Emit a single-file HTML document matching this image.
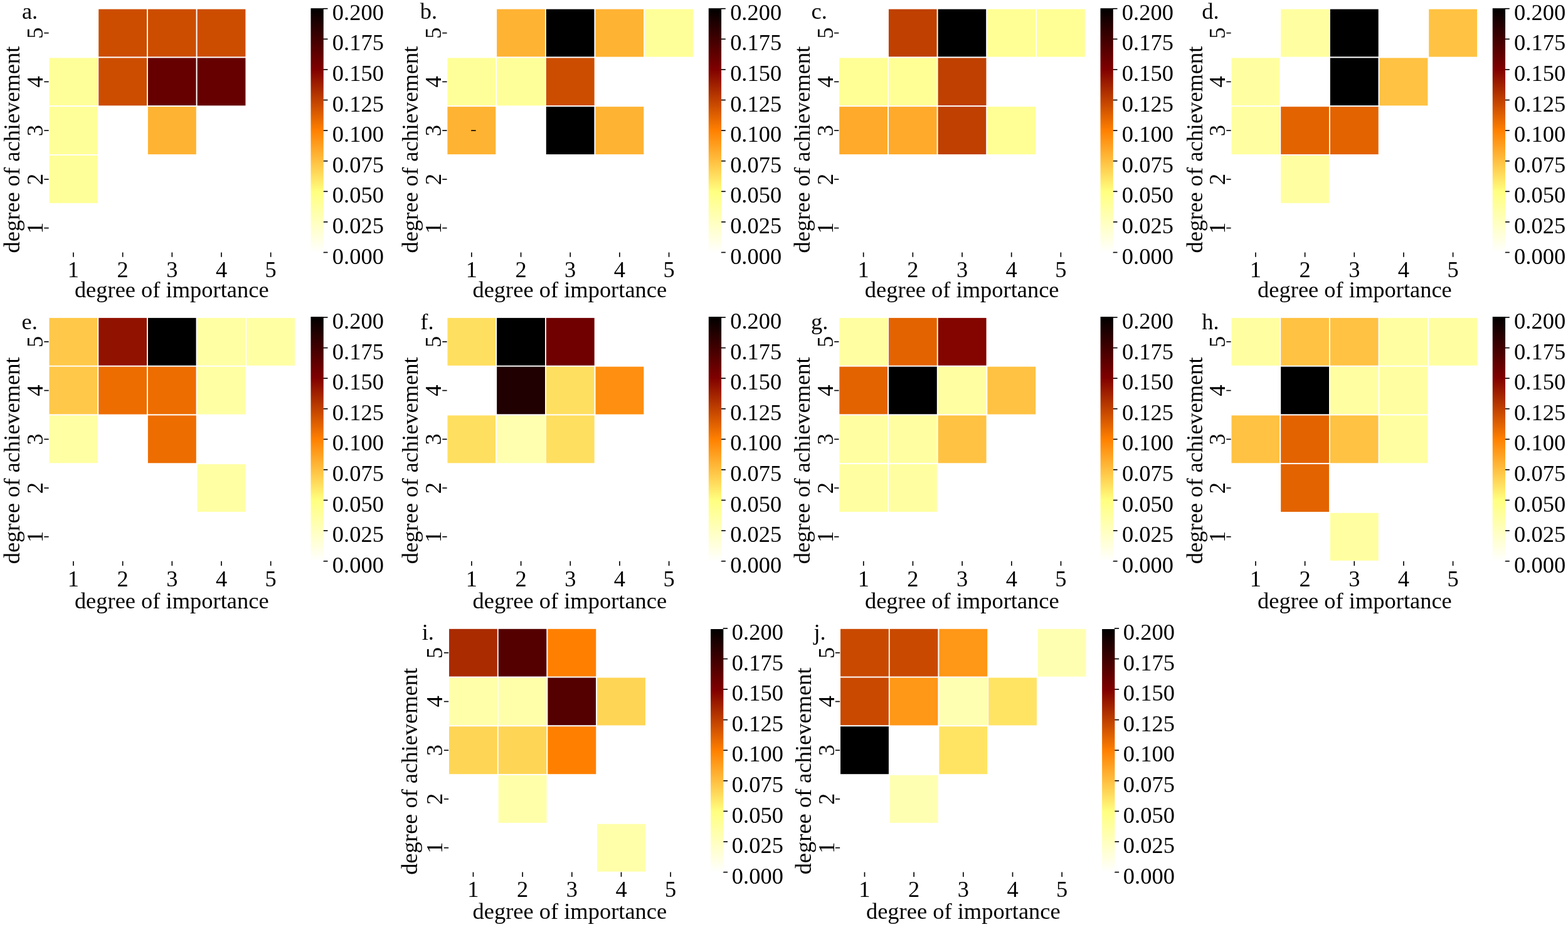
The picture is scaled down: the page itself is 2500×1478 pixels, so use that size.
<!DOCTYPE html>
<html lang="en">
<head>
<meta charset="utf-8">
<title>Importance vs. achievement heatmaps</title>
<style>
html,body{margin:0;padding:0;background:#ffffff;}
body{width:2500px;height:1478px;overflow:hidden;}
svg{display:block;}
text{font-family:"Liberation Serif",serif;font-size:36.46px;fill:#000000;}
</style>
</head>
<body>
<svg width="2500" height="1478" viewBox="0 0 2500 1478" role="img" aria-label="Heatmaps of degree of achievement versus degree of importance, panels a to j">
<defs><linearGradient id="cb" x1="0" y1="0" x2="0" y2="1"><stop offset="0" stop-color="#000000"/><stop offset="0.25" stop-color="#800000"/><stop offset="0.5" stop-color="#ff8000"/><stop offset="0.75" stop-color="#ffff80"/><stop offset="1" stop-color="#ffffff"/></linearGradient></defs>
<rect x="0" y="0" width="2500" height="1478" fill="#ffffff"/>
<g class="panel" id="panel-a">
<g class="cells" stroke="#ffffff" stroke-width="1.8">
<rect x="156.32" y="13.75" width="78.67" height="77.74" fill="#cc4d00"/>
<rect x="234.99" y="13.75" width="78.67" height="77.74" fill="#cc4d00"/>
<rect x="313.66" y="13.75" width="78.67" height="77.74" fill="#cc4d00"/>
<rect x="77.65" y="91.49" width="78.67" height="77.74" fill="#ffff99"/>
<rect x="156.32" y="91.49" width="78.67" height="77.74" fill="#cc4d00"/>
<rect x="234.99" y="91.49" width="78.67" height="77.74" fill="#660000"/>
<rect x="313.66" y="91.49" width="78.67" height="77.74" fill="#660000"/>
<rect x="77.65" y="169.23" width="78.67" height="77.74" fill="#ffff99"/>
<rect x="234.99" y="169.23" width="78.67" height="77.74" fill="#ffb333"/>
<rect x="77.65" y="246.97" width="78.67" height="77.74" fill="#ffff99"/>
</g>
<g class="ticks" stroke="#000000" stroke-width="1.65" fill="none">
<line x1="116.99" y1="402.45" x2="116.99" y2="409.75"/>
<line x1="195.66" y1="402.45" x2="195.66" y2="409.75"/>
<line x1="274.33" y1="402.45" x2="274.33" y2="409.75"/>
<line x1="353.00" y1="402.45" x2="353.00" y2="409.75"/>
<line x1="431.66" y1="402.45" x2="431.66" y2="409.75"/>
<line x1="70.35" y1="52.62" x2="77.65" y2="52.62"/>
<line x1="70.35" y1="130.36" x2="77.65" y2="130.36"/>
<line x1="70.35" y1="208.10" x2="77.65" y2="208.10"/>
<line x1="70.35" y1="285.84" x2="77.65" y2="285.84"/>
<line x1="70.35" y1="363.58" x2="77.65" y2="363.58"/>
<line x1="515.20" y1="13.75" x2="522.50" y2="13.75"/>
<line x1="515.20" y1="62.34" x2="522.50" y2="62.34"/>
<line x1="515.20" y1="110.92" x2="522.50" y2="110.92"/>
<line x1="515.20" y1="159.51" x2="522.50" y2="159.51"/>
<line x1="515.20" y1="208.10" x2="522.50" y2="208.10"/>
<line x1="515.20" y1="256.69" x2="522.50" y2="256.69"/>
<line x1="515.20" y1="305.27" x2="522.50" y2="305.27"/>
<line x1="515.20" y1="353.86" x2="522.50" y2="353.86"/>
<line x1="515.20" y1="402.45" x2="522.50" y2="402.45"/>
</g>
<rect class="colorbar" x="495.50" y="13.20" width="20.30" height="389.65" fill="url(#cb)"/>
<g class="labels">
<text x="116.99" y="442.30" text-anchor="middle">1</text>
<text x="195.66" y="442.30" text-anchor="middle">2</text>
<text x="274.33" y="442.30" text-anchor="middle">3</text>
<text x="353.00" y="442.30" text-anchor="middle">4</text>
<text x="431.66" y="442.30" text-anchor="middle">5</text>
<text transform="translate(68.00 52.62) rotate(-90)" text-anchor="middle">5</text>
<text transform="translate(68.00 130.36) rotate(-90)" text-anchor="middle">4</text>
<text transform="translate(68.00 208.10) rotate(-90)" text-anchor="middle">3</text>
<text transform="translate(68.00 285.84) rotate(-90)" text-anchor="middle">2</text>
<text transform="translate(68.00 363.58) rotate(-90)" text-anchor="middle">1</text>
<text x="529.85" y="31.85">0.200</text>
<text x="529.85" y="80.44">0.175</text>
<text x="529.85" y="129.03">0.150</text>
<text x="529.85" y="177.61">0.125</text>
<text x="529.85" y="226.20">0.100</text>
<text x="529.85" y="274.79">0.075</text>
<text x="529.85" y="323.38">0.050</text>
<text x="529.85" y="371.96">0.025</text>
<text x="529.85" y="420.55">0.000</text>
<text x="273.73" y="473.50" text-anchor="middle">degree of importance</text>
<text transform="translate(31.25 238.55) rotate(-90)" text-anchor="middle">degree of achievement</text>
<text x="34.90" y="30.00">a.</text>
</g>
</g>
<g class="panel" id="panel-b">
<g class="cells" stroke="#ffffff" stroke-width="1.8">
<rect x="791.22" y="13.75" width="78.67" height="77.74" fill="#ffb333"/>
<rect x="869.89" y="13.75" width="78.67" height="77.74" fill="#000000"/>
<rect x="948.56" y="13.75" width="78.67" height="77.74" fill="#ffb333"/>
<rect x="1027.23" y="13.75" width="78.67" height="77.74" fill="#ffff99"/>
<rect x="712.55" y="91.49" width="78.67" height="77.74" fill="#ffff99"/>
<rect x="791.22" y="91.49" width="78.67" height="77.74" fill="#ffff99"/>
<rect x="869.89" y="91.49" width="78.67" height="77.74" fill="#cc4d00"/>
<rect x="712.55" y="169.23" width="78.67" height="77.74" fill="#ffb333"/>
<rect x="869.89" y="169.23" width="78.67" height="77.74" fill="#000000"/>
<rect x="948.56" y="169.23" width="78.67" height="77.74" fill="#ffb333"/>
</g>
<g class="ticks" stroke="#000000" stroke-width="1.65" fill="none">
<line x1="751.88" y1="402.45" x2="751.88" y2="409.75"/>
<line x1="830.55" y1="402.45" x2="830.55" y2="409.75"/>
<line x1="909.22" y1="402.45" x2="909.22" y2="409.75"/>
<line x1="987.89" y1="402.45" x2="987.89" y2="409.75"/>
<line x1="1066.57" y1="402.45" x2="1066.57" y2="409.75"/>
<line x1="705.25" y1="52.62" x2="712.55" y2="52.62"/>
<line x1="705.25" y1="130.36" x2="712.55" y2="130.36"/>
<line x1="705.25" y1="208.10" x2="712.55" y2="208.10"/>
<line x1="705.25" y1="285.84" x2="712.55" y2="285.84"/>
<line x1="705.25" y1="363.58" x2="712.55" y2="363.58"/>
<line x1="1149.50" y1="13.75" x2="1156.80" y2="13.75"/>
<line x1="1149.50" y1="62.34" x2="1156.80" y2="62.34"/>
<line x1="1149.50" y1="110.92" x2="1156.80" y2="110.92"/>
<line x1="1149.50" y1="159.51" x2="1156.80" y2="159.51"/>
<line x1="1149.50" y1="208.10" x2="1156.80" y2="208.10"/>
<line x1="1149.50" y1="256.69" x2="1156.80" y2="256.69"/>
<line x1="1149.50" y1="305.27" x2="1156.80" y2="305.27"/>
<line x1="1149.50" y1="353.86" x2="1156.80" y2="353.86"/>
<line x1="1149.50" y1="402.45" x2="1156.80" y2="402.45"/>
</g>
<rect class="colorbar" x="1129.80" y="13.20" width="20.30" height="389.65" fill="url(#cb)"/>
<g class="labels">
<text x="751.88" y="442.30" text-anchor="middle">1</text>
<text x="830.55" y="442.30" text-anchor="middle">2</text>
<text x="909.22" y="442.30" text-anchor="middle">3</text>
<text x="987.89" y="442.30" text-anchor="middle">4</text>
<text x="1066.57" y="442.30" text-anchor="middle">5</text>
<text transform="translate(702.90 52.62) rotate(-90)" text-anchor="middle">5</text>
<text transform="translate(702.90 130.36) rotate(-90)" text-anchor="middle">4</text>
<text transform="translate(702.90 208.10) rotate(-90)" text-anchor="middle">3</text>
<text transform="translate(702.90 285.84) rotate(-90)" text-anchor="middle">2</text>
<text transform="translate(702.90 363.58) rotate(-90)" text-anchor="middle">1</text>
<text x="1164.15" y="31.85">0.200</text>
<text x="1164.15" y="80.44">0.175</text>
<text x="1164.15" y="129.03">0.150</text>
<text x="1164.15" y="177.61">0.125</text>
<text x="1164.15" y="226.20">0.100</text>
<text x="1164.15" y="274.79">0.075</text>
<text x="1164.15" y="323.38">0.050</text>
<text x="1164.15" y="371.96">0.025</text>
<text x="1164.15" y="420.55">0.000</text>
<text x="908.32" y="473.50" text-anchor="middle">degree of importance</text>
<text transform="translate(665.65 238.55) rotate(-90)" text-anchor="middle">degree of achievement</text>
<text x="669.80" y="30.00">b.</text>
</g>
<line x1="751.15" y1="208.20" x2="758.65" y2="208.20" stroke="#000" stroke-width="1.6"/>
</g>
<g class="panel" id="panel-c">
<g class="cells" stroke="#ffffff" stroke-width="1.8">
<rect x="1416.02" y="13.75" width="78.67" height="77.74" fill="#bf4000"/>
<rect x="1494.69" y="13.75" width="78.67" height="77.74" fill="#000000"/>
<rect x="1573.36" y="13.75" width="78.67" height="77.74" fill="#ffff95"/>
<rect x="1652.03" y="13.75" width="78.67" height="77.74" fill="#ffff95"/>
<rect x="1337.35" y="91.49" width="78.67" height="77.74" fill="#ffff95"/>
<rect x="1416.02" y="91.49" width="78.67" height="77.74" fill="#ffff95"/>
<rect x="1494.69" y="91.49" width="78.67" height="77.74" fill="#bf4000"/>
<rect x="1337.35" y="169.23" width="78.67" height="77.74" fill="#ffaa2b"/>
<rect x="1416.02" y="169.23" width="78.67" height="77.74" fill="#ffaa2b"/>
<rect x="1494.69" y="169.23" width="78.67" height="77.74" fill="#bf4000"/>
<rect x="1573.36" y="169.23" width="78.67" height="77.74" fill="#ffff95"/>
</g>
<g class="ticks" stroke="#000000" stroke-width="1.65" fill="none">
<line x1="1376.68" y1="402.45" x2="1376.68" y2="409.75"/>
<line x1="1455.36" y1="402.45" x2="1455.36" y2="409.75"/>
<line x1="1534.02" y1="402.45" x2="1534.02" y2="409.75"/>
<line x1="1612.69" y1="402.45" x2="1612.69" y2="409.75"/>
<line x1="1691.36" y1="402.45" x2="1691.36" y2="409.75"/>
<line x1="1330.05" y1="52.62" x2="1337.35" y2="52.62"/>
<line x1="1330.05" y1="130.36" x2="1337.35" y2="130.36"/>
<line x1="1330.05" y1="208.10" x2="1337.35" y2="208.10"/>
<line x1="1330.05" y1="285.84" x2="1337.35" y2="285.84"/>
<line x1="1330.05" y1="363.58" x2="1337.35" y2="363.58"/>
<line x1="1774.20" y1="13.75" x2="1781.50" y2="13.75"/>
<line x1="1774.20" y1="62.34" x2="1781.50" y2="62.34"/>
<line x1="1774.20" y1="110.92" x2="1781.50" y2="110.92"/>
<line x1="1774.20" y1="159.51" x2="1781.50" y2="159.51"/>
<line x1="1774.20" y1="208.10" x2="1781.50" y2="208.10"/>
<line x1="1774.20" y1="256.69" x2="1781.50" y2="256.69"/>
<line x1="1774.20" y1="305.27" x2="1781.50" y2="305.27"/>
<line x1="1774.20" y1="353.86" x2="1781.50" y2="353.86"/>
<line x1="1774.20" y1="402.45" x2="1781.50" y2="402.45"/>
</g>
<rect class="colorbar" x="1754.50" y="13.20" width="20.30" height="389.65" fill="url(#cb)"/>
<g class="labels">
<text x="1376.68" y="442.30" text-anchor="middle">1</text>
<text x="1455.36" y="442.30" text-anchor="middle">2</text>
<text x="1534.02" y="442.30" text-anchor="middle">3</text>
<text x="1612.69" y="442.30" text-anchor="middle">4</text>
<text x="1691.36" y="442.30" text-anchor="middle">5</text>
<text transform="translate(1327.70 52.62) rotate(-90)" text-anchor="middle">5</text>
<text transform="translate(1327.70 130.36) rotate(-90)" text-anchor="middle">4</text>
<text transform="translate(1327.70 208.10) rotate(-90)" text-anchor="middle">3</text>
<text transform="translate(1327.70 285.84) rotate(-90)" text-anchor="middle">2</text>
<text transform="translate(1327.70 363.58) rotate(-90)" text-anchor="middle">1</text>
<text x="1788.85" y="31.85">0.200</text>
<text x="1788.85" y="80.44">0.175</text>
<text x="1788.85" y="129.03">0.150</text>
<text x="1788.85" y="177.61">0.125</text>
<text x="1788.85" y="226.20">0.100</text>
<text x="1788.85" y="274.79">0.075</text>
<text x="1788.85" y="323.38">0.050</text>
<text x="1788.85" y="371.96">0.025</text>
<text x="1788.85" y="420.55">0.000</text>
<text x="1533.72" y="473.50" text-anchor="middle">degree of importance</text>
<text transform="translate(1290.55 238.55) rotate(-90)" text-anchor="middle">degree of achievement</text>
<text x="1293.50" y="30.00">c.</text>
</g>
</g>
<g class="panel" id="panel-d">
<g class="cells" stroke="#ffffff" stroke-width="1.8">
<rect x="2041.27" y="13.75" width="78.67" height="77.74" fill="#ffffa1"/>
<rect x="2119.94" y="13.75" width="78.67" height="77.74" fill="#000000"/>
<rect x="2277.28" y="13.75" width="78.67" height="77.74" fill="#ffc242"/>
<rect x="1962.60" y="91.49" width="78.67" height="77.74" fill="#ffffa1"/>
<rect x="2119.94" y="91.49" width="78.67" height="77.74" fill="#000000"/>
<rect x="2198.61" y="91.49" width="78.67" height="77.74" fill="#ffc242"/>
<rect x="1962.60" y="169.23" width="78.67" height="77.74" fill="#ffffa1"/>
<rect x="2041.27" y="169.23" width="78.67" height="77.74" fill="#e36300"/>
<rect x="2119.94" y="169.23" width="78.67" height="77.74" fill="#e36300"/>
<rect x="2041.27" y="246.97" width="78.67" height="77.74" fill="#ffffa1"/>
</g>
<g class="ticks" stroke="#000000" stroke-width="1.65" fill="none">
<line x1="2001.93" y1="402.45" x2="2001.93" y2="409.75"/>
<line x1="2080.61" y1="402.45" x2="2080.61" y2="409.75"/>
<line x1="2159.28" y1="402.45" x2="2159.28" y2="409.75"/>
<line x1="2237.94" y1="402.45" x2="2237.94" y2="409.75"/>
<line x1="2316.61" y1="402.45" x2="2316.61" y2="409.75"/>
<line x1="1955.30" y1="52.62" x2="1962.60" y2="52.62"/>
<line x1="1955.30" y1="130.36" x2="1962.60" y2="130.36"/>
<line x1="1955.30" y1="208.10" x2="1962.60" y2="208.10"/>
<line x1="1955.30" y1="285.84" x2="1962.60" y2="285.84"/>
<line x1="1955.30" y1="363.58" x2="1962.60" y2="363.58"/>
<line x1="2399.45" y1="13.75" x2="2406.75" y2="13.75"/>
<line x1="2399.45" y1="62.34" x2="2406.75" y2="62.34"/>
<line x1="2399.45" y1="110.92" x2="2406.75" y2="110.92"/>
<line x1="2399.45" y1="159.51" x2="2406.75" y2="159.51"/>
<line x1="2399.45" y1="208.10" x2="2406.75" y2="208.10"/>
<line x1="2399.45" y1="256.69" x2="2406.75" y2="256.69"/>
<line x1="2399.45" y1="305.27" x2="2406.75" y2="305.27"/>
<line x1="2399.45" y1="353.86" x2="2406.75" y2="353.86"/>
<line x1="2399.45" y1="402.45" x2="2406.75" y2="402.45"/>
</g>
<rect class="colorbar" x="2379.75" y="13.20" width="20.30" height="389.65" fill="url(#cb)"/>
<g class="labels">
<text x="2001.93" y="442.30" text-anchor="middle">1</text>
<text x="2080.61" y="442.30" text-anchor="middle">2</text>
<text x="2159.28" y="442.30" text-anchor="middle">3</text>
<text x="2237.94" y="442.30" text-anchor="middle">4</text>
<text x="2316.61" y="442.30" text-anchor="middle">5</text>
<text transform="translate(1952.95 52.62) rotate(-90)" text-anchor="middle">5</text>
<text transform="translate(1952.95 130.36) rotate(-90)" text-anchor="middle">4</text>
<text transform="translate(1952.95 208.10) rotate(-90)" text-anchor="middle">3</text>
<text transform="translate(1952.95 285.84) rotate(-90)" text-anchor="middle">2</text>
<text transform="translate(1952.95 363.58) rotate(-90)" text-anchor="middle">1</text>
<text x="2414.10" y="31.85">0.200</text>
<text x="2414.10" y="80.44">0.175</text>
<text x="2414.10" y="129.03">0.150</text>
<text x="2414.10" y="177.61">0.125</text>
<text x="2414.10" y="226.20">0.100</text>
<text x="2414.10" y="274.79">0.075</text>
<text x="2414.10" y="323.38">0.050</text>
<text x="2414.10" y="371.96">0.025</text>
<text x="2414.10" y="420.55">0.000</text>
<text x="2159.97" y="473.50" text-anchor="middle">degree of importance</text>
<text transform="translate(1917.20 238.55) rotate(-90)" text-anchor="middle">degree of achievement</text>
<text x="1916.35" y="30.00">d.</text>
</g>
</g>
<g class="panel" id="panel-e">
<g class="cells" stroke="#ffffff" stroke-width="1.8">
<rect x="77.65" y="506.00" width="78.67" height="77.74" fill="#ffc849"/>
<rect x="156.32" y="506.00" width="78.67" height="77.74" fill="#921200"/>
<rect x="234.99" y="506.00" width="78.67" height="77.74" fill="#000000"/>
<rect x="313.66" y="506.00" width="78.67" height="77.74" fill="#ffffa4"/>
<rect x="392.33" y="506.00" width="78.67" height="77.74" fill="#ffffa4"/>
<rect x="77.65" y="583.74" width="78.67" height="77.74" fill="#ffc849"/>
<rect x="156.32" y="583.74" width="78.67" height="77.74" fill="#ed6d00"/>
<rect x="234.99" y="583.74" width="78.67" height="77.74" fill="#ed6d00"/>
<rect x="313.66" y="583.74" width="78.67" height="77.74" fill="#ffffa4"/>
<rect x="77.65" y="661.48" width="78.67" height="77.74" fill="#ffffa4"/>
<rect x="234.99" y="661.48" width="78.67" height="77.74" fill="#ed6d00"/>
<rect x="313.66" y="739.22" width="78.67" height="77.74" fill="#ffffa4"/>
</g>
<g class="ticks" stroke="#000000" stroke-width="1.65" fill="none">
<line x1="116.99" y1="894.70" x2="116.99" y2="902.00"/>
<line x1="195.66" y1="894.70" x2="195.66" y2="902.00"/>
<line x1="274.33" y1="894.70" x2="274.33" y2="902.00"/>
<line x1="353.00" y1="894.70" x2="353.00" y2="902.00"/>
<line x1="431.66" y1="894.70" x2="431.66" y2="902.00"/>
<line x1="70.35" y1="544.87" x2="77.65" y2="544.87"/>
<line x1="70.35" y1="622.61" x2="77.65" y2="622.61"/>
<line x1="70.35" y1="700.35" x2="77.65" y2="700.35"/>
<line x1="70.35" y1="778.09" x2="77.65" y2="778.09"/>
<line x1="70.35" y1="855.83" x2="77.65" y2="855.83"/>
<line x1="515.20" y1="506.00" x2="522.50" y2="506.00"/>
<line x1="515.20" y1="554.59" x2="522.50" y2="554.59"/>
<line x1="515.20" y1="603.17" x2="522.50" y2="603.17"/>
<line x1="515.20" y1="651.76" x2="522.50" y2="651.76"/>
<line x1="515.20" y1="700.35" x2="522.50" y2="700.35"/>
<line x1="515.20" y1="748.94" x2="522.50" y2="748.94"/>
<line x1="515.20" y1="797.52" x2="522.50" y2="797.52"/>
<line x1="515.20" y1="846.11" x2="522.50" y2="846.11"/>
<line x1="515.20" y1="894.70" x2="522.50" y2="894.70"/>
</g>
<rect class="colorbar" x="495.50" y="505.00" width="20.30" height="390.10" fill="url(#cb)"/>
<g class="labels">
<text x="116.99" y="934.55" text-anchor="middle">1</text>
<text x="195.66" y="934.55" text-anchor="middle">2</text>
<text x="274.33" y="934.55" text-anchor="middle">3</text>
<text x="353.00" y="934.55" text-anchor="middle">4</text>
<text x="431.66" y="934.55" text-anchor="middle">5</text>
<text transform="translate(68.00 544.87) rotate(-90)" text-anchor="middle">5</text>
<text transform="translate(68.00 622.61) rotate(-90)" text-anchor="middle">4</text>
<text transform="translate(68.00 700.35) rotate(-90)" text-anchor="middle">3</text>
<text transform="translate(68.00 778.09) rotate(-90)" text-anchor="middle">2</text>
<text transform="translate(68.00 855.83) rotate(-90)" text-anchor="middle">1</text>
<text x="529.85" y="524.10">0.200</text>
<text x="529.85" y="572.69">0.175</text>
<text x="529.85" y="621.27">0.150</text>
<text x="529.85" y="669.86">0.125</text>
<text x="529.85" y="718.45">0.100</text>
<text x="529.85" y="767.04">0.075</text>
<text x="529.85" y="815.62">0.050</text>
<text x="529.85" y="864.21">0.025</text>
<text x="529.85" y="912.80">0.000</text>
<text x="273.73" y="969.50" text-anchor="middle">degree of importance</text>
<text transform="translate(31.25 734.35) rotate(-90)" text-anchor="middle">degree of achievement</text>
<text x="34.50" y="525.10">e.</text>
</g>
</g>
<g class="panel" id="panel-f">
<g class="cells" stroke="#ffffff" stroke-width="1.8">
<rect x="712.60" y="506.00" width="78.67" height="77.74" fill="#ffdf60"/>
<rect x="791.27" y="506.00" width="78.67" height="77.74" fill="#000000"/>
<rect x="869.94" y="506.00" width="78.67" height="77.74" fill="#700000"/>
<rect x="791.27" y="583.74" width="78.67" height="77.74" fill="#200000"/>
<rect x="869.94" y="583.74" width="78.67" height="77.74" fill="#ffdf60"/>
<rect x="948.61" y="583.74" width="78.67" height="77.74" fill="#ff8f10"/>
<rect x="712.60" y="661.48" width="78.67" height="77.74" fill="#ffdf60"/>
<rect x="791.27" y="661.48" width="78.67" height="77.74" fill="#ffffaf"/>
<rect x="869.94" y="661.48" width="78.67" height="77.74" fill="#ffdf60"/>
</g>
<g class="ticks" stroke="#000000" stroke-width="1.65" fill="none">
<line x1="751.94" y1="894.70" x2="751.94" y2="902.00"/>
<line x1="830.61" y1="894.70" x2="830.61" y2="902.00"/>
<line x1="909.28" y1="894.70" x2="909.28" y2="902.00"/>
<line x1="987.95" y1="894.70" x2="987.95" y2="902.00"/>
<line x1="1066.62" y1="894.70" x2="1066.62" y2="902.00"/>
<line x1="705.30" y1="544.87" x2="712.60" y2="544.87"/>
<line x1="705.30" y1="622.61" x2="712.60" y2="622.61"/>
<line x1="705.30" y1="700.35" x2="712.60" y2="700.35"/>
<line x1="705.30" y1="778.09" x2="712.60" y2="778.09"/>
<line x1="705.30" y1="855.83" x2="712.60" y2="855.83"/>
<line x1="1149.55" y1="506.00" x2="1156.85" y2="506.00"/>
<line x1="1149.55" y1="554.59" x2="1156.85" y2="554.59"/>
<line x1="1149.55" y1="603.17" x2="1156.85" y2="603.17"/>
<line x1="1149.55" y1="651.76" x2="1156.85" y2="651.76"/>
<line x1="1149.55" y1="700.35" x2="1156.85" y2="700.35"/>
<line x1="1149.55" y1="748.94" x2="1156.85" y2="748.94"/>
<line x1="1149.55" y1="797.52" x2="1156.85" y2="797.52"/>
<line x1="1149.55" y1="846.11" x2="1156.85" y2="846.11"/>
<line x1="1149.55" y1="894.70" x2="1156.85" y2="894.70"/>
</g>
<rect class="colorbar" x="1129.85" y="505.00" width="20.30" height="390.10" fill="url(#cb)"/>
<g class="labels">
<text x="751.94" y="934.55" text-anchor="middle">1</text>
<text x="830.61" y="934.55" text-anchor="middle">2</text>
<text x="909.28" y="934.55" text-anchor="middle">3</text>
<text x="987.95" y="934.55" text-anchor="middle">4</text>
<text x="1066.62" y="934.55" text-anchor="middle">5</text>
<text transform="translate(702.95 544.87) rotate(-90)" text-anchor="middle">5</text>
<text transform="translate(702.95 622.61) rotate(-90)" text-anchor="middle">4</text>
<text transform="translate(702.95 700.35) rotate(-90)" text-anchor="middle">3</text>
<text transform="translate(702.95 778.09) rotate(-90)" text-anchor="middle">2</text>
<text transform="translate(702.95 855.83) rotate(-90)" text-anchor="middle">1</text>
<text x="1164.20" y="524.10">0.200</text>
<text x="1164.20" y="572.69">0.175</text>
<text x="1164.20" y="621.27">0.150</text>
<text x="1164.20" y="669.86">0.125</text>
<text x="1164.20" y="718.45">0.100</text>
<text x="1164.20" y="767.04">0.075</text>
<text x="1164.20" y="815.62">0.050</text>
<text x="1164.20" y="864.21">0.025</text>
<text x="1164.20" y="912.80">0.000</text>
<text x="908.38" y="969.50" text-anchor="middle">degree of importance</text>
<text transform="translate(665.70 734.35) rotate(-90)" text-anchor="middle">degree of achievement</text>
<text x="670.30" y="525.10">f.</text>
</g>
</g>
<g class="panel" id="panel-g">
<g class="cells" stroke="#ffffff" stroke-width="1.8">
<rect x="1337.45" y="506.00" width="78.67" height="77.74" fill="#ffffa1"/>
<rect x="1416.12" y="506.00" width="78.67" height="77.74" fill="#e36300"/>
<rect x="1494.79" y="506.00" width="78.67" height="77.74" fill="#840500"/>
<rect x="1337.45" y="583.74" width="78.67" height="77.74" fill="#e36300"/>
<rect x="1416.12" y="583.74" width="78.67" height="77.74" fill="#000000"/>
<rect x="1494.79" y="583.74" width="78.67" height="77.74" fill="#ffffa1"/>
<rect x="1573.46" y="583.74" width="78.67" height="77.74" fill="#ffc242"/>
<rect x="1337.45" y="661.48" width="78.67" height="77.74" fill="#ffffa1"/>
<rect x="1416.12" y="661.48" width="78.67" height="77.74" fill="#ffffa1"/>
<rect x="1494.79" y="661.48" width="78.67" height="77.74" fill="#ffc242"/>
<rect x="1337.45" y="739.22" width="78.67" height="77.74" fill="#ffffa1"/>
<rect x="1416.12" y="739.22" width="78.67" height="77.74" fill="#ffffa1"/>
</g>
<g class="ticks" stroke="#000000" stroke-width="1.65" fill="none">
<line x1="1376.79" y1="894.70" x2="1376.79" y2="902.00"/>
<line x1="1455.45" y1="894.70" x2="1455.45" y2="902.00"/>
<line x1="1534.12" y1="894.70" x2="1534.12" y2="902.00"/>
<line x1="1612.80" y1="894.70" x2="1612.80" y2="902.00"/>
<line x1="1691.47" y1="894.70" x2="1691.47" y2="902.00"/>
<line x1="1330.15" y1="544.87" x2="1337.45" y2="544.87"/>
<line x1="1330.15" y1="622.61" x2="1337.45" y2="622.61"/>
<line x1="1330.15" y1="700.35" x2="1337.45" y2="700.35"/>
<line x1="1330.15" y1="778.09" x2="1337.45" y2="778.09"/>
<line x1="1330.15" y1="855.83" x2="1337.45" y2="855.83"/>
<line x1="1774.30" y1="506.00" x2="1781.60" y2="506.00"/>
<line x1="1774.30" y1="554.59" x2="1781.60" y2="554.59"/>
<line x1="1774.30" y1="603.17" x2="1781.60" y2="603.17"/>
<line x1="1774.30" y1="651.76" x2="1781.60" y2="651.76"/>
<line x1="1774.30" y1="700.35" x2="1781.60" y2="700.35"/>
<line x1="1774.30" y1="748.94" x2="1781.60" y2="748.94"/>
<line x1="1774.30" y1="797.52" x2="1781.60" y2="797.52"/>
<line x1="1774.30" y1="846.11" x2="1781.60" y2="846.11"/>
<line x1="1774.30" y1="894.70" x2="1781.60" y2="894.70"/>
</g>
<rect class="colorbar" x="1754.60" y="505.00" width="20.30" height="390.10" fill="url(#cb)"/>
<g class="labels">
<text x="1376.79" y="934.55" text-anchor="middle">1</text>
<text x="1455.45" y="934.55" text-anchor="middle">2</text>
<text x="1534.12" y="934.55" text-anchor="middle">3</text>
<text x="1612.80" y="934.55" text-anchor="middle">4</text>
<text x="1691.47" y="934.55" text-anchor="middle">5</text>
<text transform="translate(1327.80 544.87) rotate(-90)" text-anchor="middle">5</text>
<text transform="translate(1327.80 622.61) rotate(-90)" text-anchor="middle">4</text>
<text transform="translate(1327.80 700.35) rotate(-90)" text-anchor="middle">3</text>
<text transform="translate(1327.80 778.09) rotate(-90)" text-anchor="middle">2</text>
<text transform="translate(1327.80 855.83) rotate(-90)" text-anchor="middle">1</text>
<text x="1788.95" y="524.10">0.200</text>
<text x="1788.95" y="572.69">0.175</text>
<text x="1788.95" y="621.27">0.150</text>
<text x="1788.95" y="669.86">0.125</text>
<text x="1788.95" y="718.45">0.100</text>
<text x="1788.95" y="767.04">0.075</text>
<text x="1788.95" y="815.62">0.050</text>
<text x="1788.95" y="864.21">0.025</text>
<text x="1788.95" y="912.80">0.000</text>
<text x="1533.83" y="969.50" text-anchor="middle">degree of importance</text>
<text transform="translate(1290.65 734.35) rotate(-90)" text-anchor="middle">degree of achievement</text>
<text x="1293.10" y="525.10">g.</text>
</g>
</g>
<g class="panel" id="panel-h">
<g class="cells" stroke="#ffffff" stroke-width="1.8">
<rect x="1962.60" y="506.00" width="78.67" height="77.74" fill="#ffffa1"/>
<rect x="2041.27" y="506.00" width="78.67" height="77.74" fill="#ffc242"/>
<rect x="2119.94" y="506.00" width="78.67" height="77.74" fill="#ffc242"/>
<rect x="2198.61" y="506.00" width="78.67" height="77.74" fill="#ffffa1"/>
<rect x="2277.28" y="506.00" width="78.67" height="77.74" fill="#ffffa1"/>
<rect x="2041.27" y="583.74" width="78.67" height="77.74" fill="#000000"/>
<rect x="2119.94" y="583.74" width="78.67" height="77.74" fill="#ffffa1"/>
<rect x="2198.61" y="583.74" width="78.67" height="77.74" fill="#ffffa1"/>
<rect x="1962.60" y="661.48" width="78.67" height="77.74" fill="#ffc242"/>
<rect x="2041.27" y="661.48" width="78.67" height="77.74" fill="#e36300"/>
<rect x="2119.94" y="661.48" width="78.67" height="77.74" fill="#ffc242"/>
<rect x="2198.61" y="661.48" width="78.67" height="77.74" fill="#ffffa1"/>
<rect x="2041.27" y="739.22" width="78.67" height="77.74" fill="#e36300"/>
<rect x="2119.94" y="816.96" width="78.67" height="77.74" fill="#ffffa1"/>
</g>
<g class="ticks" stroke="#000000" stroke-width="1.65" fill="none">
<line x1="2001.93" y1="894.70" x2="2001.93" y2="902.00"/>
<line x1="2080.61" y1="894.70" x2="2080.61" y2="902.00"/>
<line x1="2159.28" y1="894.70" x2="2159.28" y2="902.00"/>
<line x1="2237.94" y1="894.70" x2="2237.94" y2="902.00"/>
<line x1="2316.61" y1="894.70" x2="2316.61" y2="902.00"/>
<line x1="1955.30" y1="544.87" x2="1962.60" y2="544.87"/>
<line x1="1955.30" y1="622.61" x2="1962.60" y2="622.61"/>
<line x1="1955.30" y1="700.35" x2="1962.60" y2="700.35"/>
<line x1="1955.30" y1="778.09" x2="1962.60" y2="778.09"/>
<line x1="1955.30" y1="855.83" x2="1962.60" y2="855.83"/>
<line x1="2399.45" y1="506.00" x2="2406.75" y2="506.00"/>
<line x1="2399.45" y1="554.59" x2="2406.75" y2="554.59"/>
<line x1="2399.45" y1="603.17" x2="2406.75" y2="603.17"/>
<line x1="2399.45" y1="651.76" x2="2406.75" y2="651.76"/>
<line x1="2399.45" y1="700.35" x2="2406.75" y2="700.35"/>
<line x1="2399.45" y1="748.94" x2="2406.75" y2="748.94"/>
<line x1="2399.45" y1="797.52" x2="2406.75" y2="797.52"/>
<line x1="2399.45" y1="846.11" x2="2406.75" y2="846.11"/>
<line x1="2399.45" y1="894.70" x2="2406.75" y2="894.70"/>
</g>
<rect class="colorbar" x="2379.75" y="505.00" width="20.30" height="390.10" fill="url(#cb)"/>
<g class="labels">
<text x="2001.93" y="934.55" text-anchor="middle">1</text>
<text x="2080.61" y="934.55" text-anchor="middle">2</text>
<text x="2159.28" y="934.55" text-anchor="middle">3</text>
<text x="2237.94" y="934.55" text-anchor="middle">4</text>
<text x="2316.61" y="934.55" text-anchor="middle">5</text>
<text transform="translate(1952.95 544.87) rotate(-90)" text-anchor="middle">5</text>
<text transform="translate(1952.95 622.61) rotate(-90)" text-anchor="middle">4</text>
<text transform="translate(1952.95 700.35) rotate(-90)" text-anchor="middle">3</text>
<text transform="translate(1952.95 778.09) rotate(-90)" text-anchor="middle">2</text>
<text transform="translate(1952.95 855.83) rotate(-90)" text-anchor="middle">1</text>
<text x="2414.10" y="524.10">0.200</text>
<text x="2414.10" y="572.69">0.175</text>
<text x="2414.10" y="621.27">0.150</text>
<text x="2414.10" y="669.86">0.125</text>
<text x="2414.10" y="718.45">0.100</text>
<text x="2414.10" y="767.04">0.075</text>
<text x="2414.10" y="815.62">0.050</text>
<text x="2414.10" y="864.21">0.025</text>
<text x="2414.10" y="912.80">0.000</text>
<text x="2159.97" y="969.50" text-anchor="middle">degree of importance</text>
<text transform="translate(1917.20 734.35) rotate(-90)" text-anchor="middle">degree of achievement</text>
<text x="1916.35" y="525.10">h.</text>
</g>
</g>
<g class="panel" id="panel-i">
<g class="cells" stroke="#ffffff" stroke-width="1.8">
<rect x="715.15" y="1001.90" width="78.67" height="77.74" fill="#aa2b00"/>
<rect x="793.82" y="1001.90" width="78.67" height="77.74" fill="#550000"/>
<rect x="872.49" y="1001.90" width="78.67" height="77.74" fill="#ff8000"/>
<rect x="715.15" y="1079.64" width="78.67" height="77.74" fill="#ffffaa"/>
<rect x="793.82" y="1079.64" width="78.67" height="77.74" fill="#ffffaa"/>
<rect x="872.49" y="1079.64" width="78.67" height="77.74" fill="#550000"/>
<rect x="951.16" y="1079.64" width="78.67" height="77.74" fill="#ffd555"/>
<rect x="715.15" y="1157.38" width="78.67" height="77.74" fill="#ffd555"/>
<rect x="793.82" y="1157.38" width="78.67" height="77.74" fill="#ffd555"/>
<rect x="872.49" y="1157.38" width="78.67" height="77.74" fill="#ff8000"/>
<rect x="793.82" y="1235.12" width="78.67" height="77.74" fill="#ffffaa"/>
<rect x="951.16" y="1312.86" width="78.67" height="77.74" fill="#ffffaa"/>
</g>
<g class="ticks" stroke="#000000" stroke-width="1.65" fill="none">
<line x1="754.49" y1="1390.60" x2="754.49" y2="1397.90"/>
<line x1="833.15" y1="1390.60" x2="833.15" y2="1397.90"/>
<line x1="911.83" y1="1390.60" x2="911.83" y2="1397.90"/>
<line x1="990.50" y1="1390.60" x2="990.50" y2="1397.90"/>
<line x1="1069.16" y1="1390.60" x2="1069.16" y2="1397.90"/>
<line x1="707.85" y1="1040.77" x2="715.15" y2="1040.77"/>
<line x1="707.85" y1="1118.51" x2="715.15" y2="1118.51"/>
<line x1="707.85" y1="1196.25" x2="715.15" y2="1196.25"/>
<line x1="707.85" y1="1273.99" x2="715.15" y2="1273.99"/>
<line x1="707.85" y1="1351.73" x2="715.15" y2="1351.73"/>
<line x1="1152.80" y1="1001.90" x2="1160.10" y2="1001.90"/>
<line x1="1152.80" y1="1050.49" x2="1160.10" y2="1050.49"/>
<line x1="1152.80" y1="1099.08" x2="1160.10" y2="1099.08"/>
<line x1="1152.80" y1="1147.66" x2="1160.10" y2="1147.66"/>
<line x1="1152.80" y1="1196.25" x2="1160.10" y2="1196.25"/>
<line x1="1152.80" y1="1244.84" x2="1160.10" y2="1244.84"/>
<line x1="1152.80" y1="1293.42" x2="1160.10" y2="1293.42"/>
<line x1="1152.80" y1="1342.01" x2="1160.10" y2="1342.01"/>
<line x1="1152.80" y1="1390.60" x2="1160.10" y2="1390.60"/>
</g>
<rect class="colorbar" x="1133.10" y="1003.00" width="20.30" height="388.00" fill="url(#cb)"/>
<g class="labels">
<text x="754.49" y="1430.45" text-anchor="middle">1</text>
<text x="833.15" y="1430.45" text-anchor="middle">2</text>
<text x="911.83" y="1430.45" text-anchor="middle">3</text>
<text x="990.50" y="1430.45" text-anchor="middle">4</text>
<text x="1069.16" y="1430.45" text-anchor="middle">5</text>
<text transform="translate(704.95 1040.77) rotate(-90)" text-anchor="middle">5</text>
<text transform="translate(704.95 1118.51) rotate(-90)" text-anchor="middle">4</text>
<text transform="translate(704.95 1196.25) rotate(-90)" text-anchor="middle">3</text>
<text transform="translate(704.95 1273.99) rotate(-90)" text-anchor="middle">2</text>
<text transform="translate(704.95 1351.73) rotate(-90)" text-anchor="middle">1</text>
<text x="1166.85" y="1020.00">0.200</text>
<text x="1166.85" y="1068.59">0.175</text>
<text x="1166.85" y="1117.17">0.150</text>
<text x="1166.85" y="1165.76">0.125</text>
<text x="1166.85" y="1214.35">0.100</text>
<text x="1166.85" y="1262.94">0.075</text>
<text x="1166.85" y="1311.52">0.050</text>
<text x="1166.85" y="1360.11">0.025</text>
<text x="1166.85" y="1408.70">0.000</text>
<text x="908.38" y="1465.40" text-anchor="middle">degree of importance</text>
<text transform="translate(665.25 1229.90) rotate(-90)" text-anchor="middle">degree of achievement</text>
<text x="672.70" y="1020.00">i.</text>
</g>
</g>
<g class="panel" id="panel-j">
<g class="cells" stroke="#ffffff" stroke-width="1.8">
<rect x="1339.15" y="1001.90" width="78.67" height="77.74" fill="#c94900"/>
<rect x="1417.82" y="1001.90" width="78.67" height="77.74" fill="#c94900"/>
<rect x="1496.49" y="1001.90" width="78.67" height="77.74" fill="#ff9717"/>
<rect x="1653.83" y="1001.90" width="78.67" height="77.74" fill="#ffffb2"/>
<rect x="1339.15" y="1079.64" width="78.67" height="77.74" fill="#c94900"/>
<rect x="1417.82" y="1079.64" width="78.67" height="77.74" fill="#ff9717"/>
<rect x="1496.49" y="1079.64" width="78.67" height="77.74" fill="#ffffb2"/>
<rect x="1575.16" y="1079.64" width="78.67" height="77.74" fill="#ffe464"/>
<rect x="1339.15" y="1157.38" width="78.67" height="77.74" fill="#000000"/>
<rect x="1496.49" y="1157.38" width="78.67" height="77.74" fill="#ffe464"/>
<rect x="1417.82" y="1235.12" width="78.67" height="77.74" fill="#ffffb2"/>
</g>
<g class="ticks" stroke="#000000" stroke-width="1.65" fill="none">
<line x1="1378.49" y1="1390.60" x2="1378.49" y2="1397.90"/>
<line x1="1457.16" y1="1390.60" x2="1457.16" y2="1397.90"/>
<line x1="1535.83" y1="1390.60" x2="1535.83" y2="1397.90"/>
<line x1="1614.50" y1="1390.60" x2="1614.50" y2="1397.90"/>
<line x1="1693.16" y1="1390.60" x2="1693.16" y2="1397.90"/>
<line x1="1331.85" y1="1040.77" x2="1339.15" y2="1040.77"/>
<line x1="1331.85" y1="1118.51" x2="1339.15" y2="1118.51"/>
<line x1="1331.85" y1="1196.25" x2="1339.15" y2="1196.25"/>
<line x1="1331.85" y1="1273.99" x2="1339.15" y2="1273.99"/>
<line x1="1331.85" y1="1351.73" x2="1339.15" y2="1351.73"/>
<line x1="1776.80" y1="1001.90" x2="1784.10" y2="1001.90"/>
<line x1="1776.80" y1="1050.49" x2="1784.10" y2="1050.49"/>
<line x1="1776.80" y1="1099.08" x2="1784.10" y2="1099.08"/>
<line x1="1776.80" y1="1147.66" x2="1784.10" y2="1147.66"/>
<line x1="1776.80" y1="1196.25" x2="1784.10" y2="1196.25"/>
<line x1="1776.80" y1="1244.84" x2="1784.10" y2="1244.84"/>
<line x1="1776.80" y1="1293.42" x2="1784.10" y2="1293.42"/>
<line x1="1776.80" y1="1342.01" x2="1784.10" y2="1342.01"/>
<line x1="1776.80" y1="1390.60" x2="1784.10" y2="1390.60"/>
</g>
<rect class="colorbar" x="1757.10" y="1003.00" width="20.30" height="388.00" fill="url(#cb)"/>
<g class="labels">
<text x="1378.49" y="1430.45" text-anchor="middle">1</text>
<text x="1457.16" y="1430.45" text-anchor="middle">2</text>
<text x="1535.83" y="1430.45" text-anchor="middle">3</text>
<text x="1614.50" y="1430.45" text-anchor="middle">4</text>
<text x="1693.16" y="1430.45" text-anchor="middle">5</text>
<text transform="translate(1329.50 1040.77) rotate(-90)" text-anchor="middle">5</text>
<text transform="translate(1329.50 1118.51) rotate(-90)" text-anchor="middle">4</text>
<text transform="translate(1329.50 1196.25) rotate(-90)" text-anchor="middle">3</text>
<text transform="translate(1329.50 1273.99) rotate(-90)" text-anchor="middle">2</text>
<text transform="translate(1329.50 1351.73) rotate(-90)" text-anchor="middle">1</text>
<text x="1790.85" y="1020.00">0.200</text>
<text x="1790.85" y="1068.59">0.175</text>
<text x="1790.85" y="1117.17">0.150</text>
<text x="1790.85" y="1165.76">0.125</text>
<text x="1790.85" y="1214.35">0.100</text>
<text x="1790.85" y="1262.94">0.075</text>
<text x="1790.85" y="1311.52">0.050</text>
<text x="1790.85" y="1360.11">0.025</text>
<text x="1790.85" y="1408.70">0.000</text>
<text x="1535.83" y="1465.40" text-anchor="middle">degree of importance</text>
<text transform="translate(1292.75 1229.40) rotate(-90)" text-anchor="middle">degree of achievement</text>
<text x="1297.40" y="1020.00">j.</text>
</g>
</g>
</svg>
</body>
</html>
